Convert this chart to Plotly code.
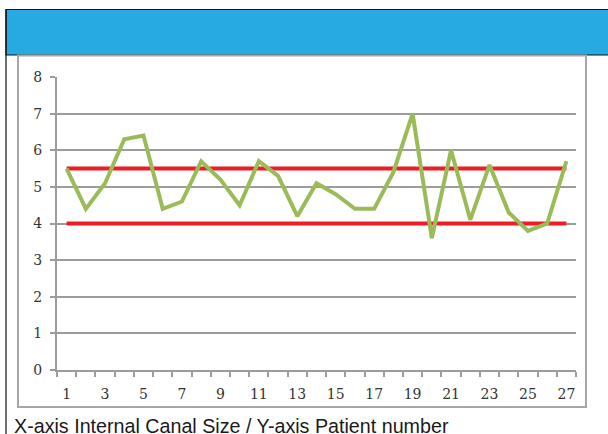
import plotly.graph_objects as go

patients = list(range(1, 28))
canal_size = [5.5, 4.4, 5.1, 6.3, 6.4, 4.4, 4.6, 5.7, 5.2, 4.5, 5.7, 5.3, 4.2, 5.1,
              4.8, 4.4, 4.4, 5.4, 7.0, 3.6, 6.0, 4.1, 5.6, 4.3, 3.8, 4.0, 5.7]
upper_limit = [5.5] * 27
lower_limit = [4.0] * 27
x_tick_labels = [str(v) for v in range(1, 28, 2)]
y_ticks = list(range(0, 9))
caption = "X-axis Internal Canal Size / Y-axis Patient number"

W, H = 608, 434
L, R, T, B = 57, 576, 77, 370


def px(x):
    return (x - L) / (R - L)


def py(y):
    return (B - y) / (B - T)


fig = go.Figure()
fig.add_trace(go.Scatter(x=patients, y=upper_limit, mode="lines",
                         line=dict(color="#EE1D25", width=4), hoverinfo="skip"))
fig.add_trace(go.Scatter(x=patients, y=lower_limit, mode="lines",
                         line=dict(color="#EE1D25", width=4), hoverinfo="skip"))
fig.add_trace(go.Scatter(x=patients, y=canal_size, mode="lines",
                         line=dict(color="#9BBB59", width=4)))

shapes = [
    # blue header with black frame
    dict(type="rect", xref="paper", yref="paper", x0=px(6), x1=px(612), y0=py(55), y1=py(9.5),
         fillcolor="#27AAE1", line=dict(color="#111111", width=1.2), layer="below"),
    # left black frame line
    dict(type="line", xref="paper", yref="paper", x0=px(6), x1=px(6), y0=py(9.5), y1=py(440),
         line=dict(color="#111111", width=1.2)),
    # chart box
    dict(type="rect", xref="paper", yref="paper", x0=px(18), x1=px(586), y0=py(407), y1=py(55.5),
         fillcolor="rgba(0,0,0,0)", line=dict(color="#A6A6A6", width=2), layer="below"),
]

fig.update_layout(
    width=W, height=H,
    margin=dict(l=L, r=W - R, t=T, b=H - B, pad=0),
    paper_bgcolor="white", plot_bgcolor="white",
    showlegend=False,
    shapes=shapes,
    annotations=[dict(text=caption, xref="paper", yref="paper", x=px(11.5), y=py(425.5),
                      xanchor="left", yanchor="middle", showarrow=False,
                      font=dict(family="Liberation Sans, Arial", size=19.7, color="#1a1a1a"))],
    xaxis=dict(range=[0.5, 27.5], tickmode="array", tickvals=list(range(1, 28, 2)),
               ticktext=x_tick_labels, ticks="", showgrid=False, zeroline=False,
               showline=True, linecolor="#9C9C9C", linewidth=2,
               ticklabelstandoff=10,
               tickfont=dict(family="DejaVu Serif", size=14, color="#333333"),
               minor=dict(tickmode="linear", tick0=0.5, dtick=1, ticks="outside",
                          ticklen=5, tickcolor="#9C9C9C", tickwidth=1.5, showgrid=False),
               fixedrange=True),
    yaxis=dict(range=[0, 8], tickmode="array", tickvals=y_ticks,
               ticks="outside", ticklen=5, tickcolor="#9C9C9C", tickwidth=1.5,
               showgrid=True, gridcolor="#9C9C9C", gridwidth=1.5, zeroline=False,
               showline=True, linecolor="#9C9C9C", linewidth=2,
               ticklabelstandoff=5,
               tickfont=dict(family="DejaVu Serif", size=14, color="#333333"),
               fixedrange=True),
)

fig.write_html("out.html", config={"displayModeBar": False},
               post_script="document.body.style.margin='0';document.body.style.overflow='hidden';")
